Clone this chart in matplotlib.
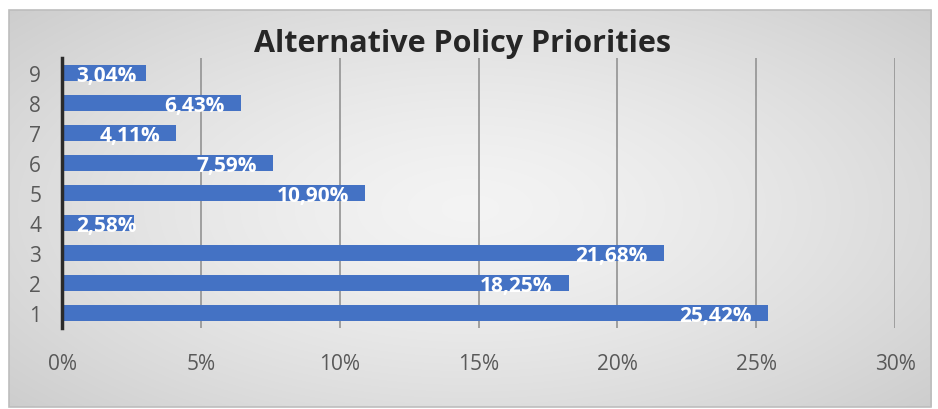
import numpy as np
import matplotlib
matplotlib.use("Agg")
import matplotlib.pyplot as plt
from matplotlib.patches import Rectangle

categories = ["1", "2", "3", "4", "5", "6", "7", "8", "9"]
values = [25.42, 18.25, 21.68, 2.58, 10.90, 7.59, 4.11, 6.43, 3.04]
xticks = [0, 5, 10, 15, 20, 25, 30]
xtick_labels = ["0%", "5%", "10%", "15%", "20%", "25%", "30%"]
title = "Alternative Policy Priorities"

W, H = 938, 410
fig = plt.figure(figsize=(W / 100, H / 100), dpi=100)
fig.patch.set_facecolor("white")

# background box with radial gradient
bx0, by0, bx1, by1 = 9, 11, 931, 408
bg = fig.add_axes([bx0 / W, 1 - by1 / H, (bx1 - bx0) / W, (by1 - by0) / H])
yy, xx = np.mgrid[-1:1:200j, -1:1:400j]
r = np.sqrt(xx ** 2 + (yy * 0.9) ** 2)
g = 0.955 - 0.15 * np.clip(r / 1.35, 0, 1) ** 1.4
img = np.dstack([g, g, g])
bg.imshow(img, aspect="auto", extent=[0, 1, 0, 1], interpolation="bilinear")
bg.set_xlim(0, 1)
bg.set_ylim(0, 1)
bg.axis("off")
bg.add_patch(Rectangle((0, 0), 1, 1, fill=False, edgecolor="#bdbdbd", lw=1.2,
                       transform=bg.transAxes, clip_on=False))

font = "Open Sans"
ax = fig.add_axes([62 / W, 1 - 329 / H, (895 - 62) / W, (329 - 59) / H])
ax.patch.set_alpha(0)
ypos = np.arange(1, len(categories) + 1)
ax.barh(ypos, values, height=0.56, color="#4472C4", zorder=3)
ax.set_xlim(0, 30)
ax.set_ylim(0.5, len(categories) + 0.5)
ax.set_xticks(xticks)
ax.set_xticklabels(xtick_labels, family=font, fontsize=15, color="#595959")
ax.set_yticks(ypos)
ax.set_yticklabels(categories, family=font, fontsize=15, color="#595959")
ax.tick_params(axis="both", length=0)
ax.tick_params(axis="x", pad=18)
ax.tick_params(axis="y", pad=15)
for t in xticks[1:]:
    ax.axvline(t, color="#999999", lw=1.3, zorder=1)
for s in ["top", "right", "bottom"]:
    ax.spines[s].set_visible(False)
ax.spines["left"].set_color("#2b2b2b")
ax.spines["left"].set_linewidth(2.5)
ax.spines["left"].set_zorder(4)

for y, v in zip(ypos, values):
    txt = f"{v:.2f}%".replace(".", ",")
    if v < 3.5:
        # label does not fit inside: Excel anchors it at the bar base
        ax.annotate(txt, xy=(0, y), xytext=(10.5, -2),
                    textcoords="offset points", ha="left", va="center",
                    color="white", fontsize=15, fontweight="bold", family=font,
                    zorder=5)
    else:
        ax.annotate(txt, xy=(v, y), xytext=(-11.5, -2),
                    textcoords="offset points", ha="right", va="center",
                    color="white", fontsize=15, fontweight="bold", family=font,
                    zorder=5)

fig.text(462 / W, 1 - 44 / H, title, ha="center", va="center",
         fontsize=22, fontweight="bold", family=font, color="#262626")

fig.savefig("out.png", dpi=100)
